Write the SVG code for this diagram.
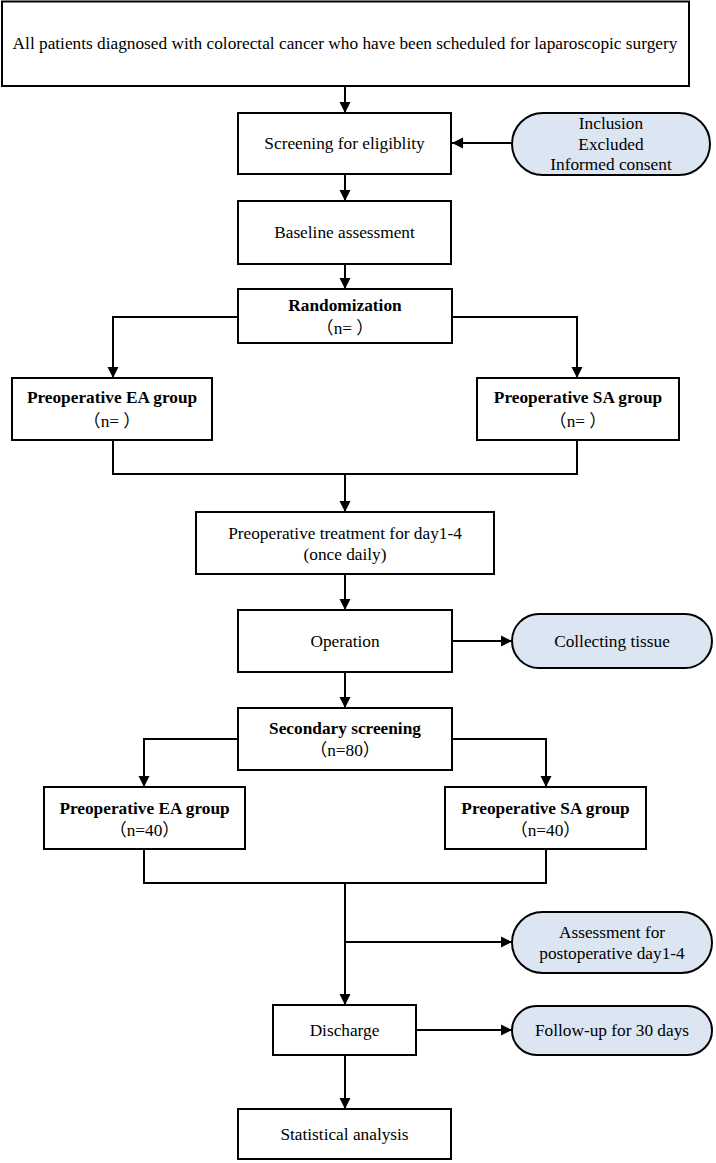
<svg xmlns="http://www.w3.org/2000/svg" width="716" height="1163" viewBox="0 0 716 1163">
<style>
.box{fill:#ffffff;stroke:#000000;stroke-width:2}
.pill{fill:#dce6f2;stroke:#000000;stroke-width:2}
.t{font-family:"Liberation Serif","Noto Sans CJK SC",serif;font-size:17.3px;fill:#000000;text-anchor:middle}
.b{font-weight:bold}
.c{fill:none;stroke:#000000;stroke-width:2}
</style>
<defs>
<marker id="ah" markerUnits="userSpaceOnUse" markerWidth="12" markerHeight="12" refX="11" refY="6" orient="auto">
<path d="M0,0.5 L11,6 L0,11.5 z" fill="#000000"/>
</marker>
</defs>
<rect width="716" height="1163" fill="#ffffff"/>
<g id="connectors">
<path class="c" d="M345,86 V113" marker-end="url(#ah)"/>
<path class="c" d="M345,174 V201" marker-end="url(#ah)"/>
<path class="c" d="M512,143 H452" marker-end="url(#ah)"/>
<path class="c" d="M345,264 V289" marker-end="url(#ah)"/>
<path class="c" d="M238,317 H113 V378" marker-end="url(#ah)"/>
<path class="c" d="M452,317 H577 V378" marker-end="url(#ah)"/>
<path class="c" d="M113,440 V474 H577 V440"/>
<path class="c" d="M345,474 V512" marker-end="url(#ah)"/>
<path class="c" d="M345,574 V610" marker-end="url(#ah)"/>
<path class="c" d="M452,641 H512" marker-end="url(#ah)"/>
<path class="c" d="M345,672 V708" marker-end="url(#ah)"/>
<path class="c" d="M238,739 H144 V787" marker-end="url(#ah)"/>
<path class="c" d="M452,739 H546 V787" marker-end="url(#ah)"/>
<path class="c" d="M144,849 V883 H546 V849"/>
<path class="c" d="M345,883 V1005" marker-end="url(#ah)"/>
<path class="c" d="M345,942 H512" marker-end="url(#ah)"/>
<path class="c" d="M416,1030 H512" marker-end="url(#ah)"/>
<path class="c" d="M345,1055 V1109" marker-end="url(#ah)"/>
</g>
<g id="all-patients">
<rect class="box" x="2" y="1.5" width="687" height="84.5" stroke-width="2.5"/>
<text class="t" x="345" y="49" font-size="17.5">All patients diagnosed with colorectal cancer who have been scheduled for laparoscopic surgery</text>
</g>
<g id="screening">
<rect class="box" x="238" y="113" width="213" height="61"/>
<text class="t" x="344.5" y="149">Screening for eligiblity</text>
</g>
<g id="criteria">
<rect class="pill" x="512" y="113" width="198" height="62" rx="31" ry="31"/>
<text class="t" x="611" y="129">Inclusion</text>
<text class="t" x="611" y="149.5">Excluded</text>
<text class="t" x="611" y="170">Informed consent</text>
</g>
<g id="baseline">
<rect class="box" x="238" y="201" width="213" height="63"/>
<text class="t" x="344.5" y="238">Baseline assessment</text>
</g>
<g id="randomization">
<rect class="box" x="238" y="289" width="214" height="54"/>
<text class="t b" x="345" y="311">Randomization</text>
<text class="t" x="345" y="334">（n= ）</text>
</g>
<g id="ea-group-1">
<rect class="box" x="12" y="378" width="200" height="62"/>
<text class="t b" x="112" y="403">Preoperative EA group</text>
<text class="t" x="112" y="427">（n= ）</text>
</g>
<g id="sa-group-1">
<rect class="box" x="477" y="378" width="202" height="62"/>
<text class="t b" x="578" y="403">Preoperative SA group</text>
<text class="t" x="578" y="427">（n= ）</text>
</g>
<g id="treatment">
<rect class="box" x="196" y="512" width="298" height="62"/>
<text class="t" x="345" y="539">Preoperative treatment for day1-4</text>
<text class="t" x="345" y="560">(once daily)</text>
</g>
<g id="operation">
<rect class="box" x="238" y="610" width="214" height="62"/>
<text class="t" x="345" y="647">Operation</text>
</g>
<g id="collecting-tissue">
<rect class="pill" x="512" y="614" width="200" height="54" rx="27" ry="27"/>
<text class="t" x="612" y="647">Collecting tissue</text>
</g>
<g id="secondary-screening">
<rect class="box" x="238" y="708" width="214" height="62"/>
<text class="t b" x="345" y="734">Secondary screening</text>
<text class="t" x="345" y="756">（n=80）</text>
</g>
<g id="ea-group-2">
<rect class="box" x="44" y="787" width="201" height="62"/>
<text class="t b" x="144.5" y="814">Preoperative EA group</text>
<text class="t" x="144.5" y="836">（n=40）</text>
</g>
<g id="sa-group-2">
<rect class="box" x="445" y="787" width="201" height="62"/>
<text class="t b" x="545.5" y="814">Preoperative SA group</text>
<text class="t" x="545.5" y="836">（n=40）</text>
</g>
<g id="assessment">
<rect class="pill" x="512" y="912" width="200" height="61" rx="30.5" ry="30.5"/>
<text class="t" x="612" y="938">Assessment for</text>
<text class="t" x="612" y="959">postoperative day1-4</text>
</g>
<g id="discharge">
<rect class="box" x="273" y="1005" width="143" height="50"/>
<text class="t" x="344.5" y="1036">Discharge</text>
</g>
<g id="follow-up">
<rect class="pill" x="512" y="1006" width="200" height="49" rx="24.5" ry="24.5"/>
<text class="t" x="612" y="1036">Follow-up for 30 days</text>
</g>
<g id="statistical-analysis">
<rect class="box" x="238" y="1109" width="213" height="50"/>
<text class="t" x="344.5" y="1140">Statistical analysis</text>
</g>
</svg>
